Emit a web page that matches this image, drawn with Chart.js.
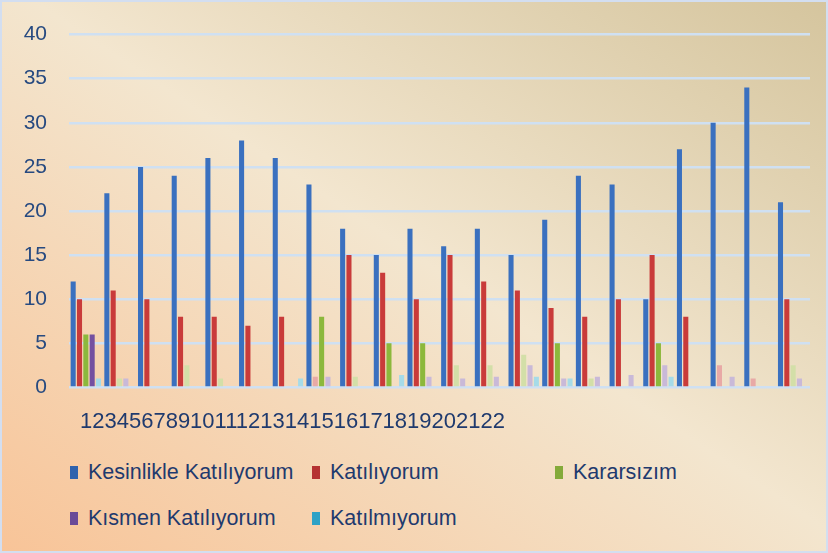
<!DOCTYPE html>
<html>
<head>
<meta charset="utf-8">
<script src="https://cdn.jsdelivr.net/npm/chart.js@4.4.1/dist/chart.umd.min.js"></script>
<style>
  html, body { margin: 0; padding: 0; }
  body { width: 828px; height: 553px; overflow: hidden; }
  #frame {
    position: relative; width: 824px; height: 549px;
    border: 2px solid #d3def0;
    background: linear-gradient(to top right, #f8c498 0%, #f3e6cf 52%, #d5c59e 100%);
    font-family: "Liberation Sans", Arial, sans-serif;
    color: #1f3a6e;
  }
  #chart { position: absolute; left: -2px; top: -2px; }
  #xlabels { position: absolute; left: 78px; top: 406px; font-size: 22px; color: #1f3a6e; }
  .leg { position: absolute; font-size: 21.5px; white-space: nowrap; }
  .leg i { display: inline-block; width: 8px; height: 13px; margin-right: 10px; vertical-align: 0px; }
</style>
</head>
<body>
<div id="frame">
  <canvas id="chart" width="828" height="422"></canvas>
  <div id="xlabels"></div>
  <div id="legend"></div>
</div>
<script>
// Kategoriler (1..22)
const categories = ['1','2','3','4','5','6','7','8','9','10','11','12','13','14','15','16','17','18','19','20','21','22'];

const seriesNames = ['Kesinlikle Katılıyorum', 'Katılıyorum', 'Kararsızım', 'Kısmen Katılıyorum', 'Katılmıyorum'];

const kesinlikle = [12, 22, 25, 24, 26, 28, 26, 23, 18, 15, 18, 16, 18, 15, 19, 24, 23, 10, 27, 30, 34, 21];
const katiliyorum = [10, 11, 10, 8, 8, 7, 8, 1.2, 15, 13, 10, 15, 12, 11, 9, 8, 10, 15, 8, 2.5, 1, 10];
const kararsizim = [6, 1, 0, 2.5, 1, 0, 0, 8, 1.2, 5, 5, 2.5, 2.5, 3.7, 5, 1, 0, 5, 0, 0, 0, 2.5];
const kismen = [6, 1, 0, 0, 0, 0, 0, 1.2, 0, 0, 1.2, 1, 1.2, 2.5, 1, 1.2, 1.4, 2.5, 0, 1.2, 0, 1];
const katilmiyorum = [1, 0, 0, 0, 0, 0, 1, 0, 0, 1.4, 0, 0, 0, 1.2, 1, 0, 0, 1.2, 0, 0, 0, 0];

const yTicks = [0, 5, 10, 15, 20, 25, 30, 35, 40];

// renkler: koyu (normal) ve soluk (küçük değerler)
const solid = ['#3a70bf', '#c93b3a', '#8cb83c', '#7450a0', '#3aaed0'];
const faded = ['#a9c0e4', '#e8a9a6', '#d3dfa8', '#c9b9d8', '#a6dbe8'];
const legendColors = ['#2f62ad', '#b53231', '#84aa3a', '#6a4a98', '#2ea2c6'];

const allData = [kesinlikle, katiliyorum, kararsizim, kismen, katilmiyorum];

const datasets = allData.map((arr, i) => ({
  label: seriesNames[i],
  data: arr,
  backgroundColor: (c) => (c.raw < 4 ? faded[i] : solid[i]),
  borderWidth: 0,
  categoryPercentage: 0.94,
  barPercentage: 0.8
}));

new Chart(document.getElementById('chart'), {
  type: 'bar',
  data: { labels: categories, datasets: datasets },
  options: {
    responsive: false,
    animation: false,
    layout: { padding: { top: 0, right: 18, bottom: 0, left: 0 } },
    plugins: { legend: { display: false }, tooltip: { enabled: false } },
    scales: {
      x: {
        afterFit: (s) => { s.height = 0; },
        ticks: { display: false },
        grid: { display: false },
        border: { display: false }
      },
      y: {
        min: 0, max: 40,
        afterBuildTicks: (s) => { s.ticks = yTicks.map(v => ({ value: v })); },
        afterFit: (s) => { s.width = 69; },
        ticks: {
          padding: 22,
          color: '#274a80',
          font: { family: 'Liberation Sans', size: 21 }
        },
        grid: { color: '#cfe0f2', lineWidth: 2.5, drawTicks: false },
        border: { display: false }
      }
    }
  }
});

// x ekseni etiketleri (orijinaldeki gibi bitişik)
document.getElementById('xlabels').textContent = categories.join('');

// açıklama
const legendEl = document.getElementById('legend');
const legendLeft = [68, 310, 553];
seriesNames.forEach((name, i) => {
  const d = document.createElement('div');
  d.className = 'leg';
  d.style.left = legendLeft[i % 3] + 'px';
  d.style.top = (i < 3 ? 458 : 504) + 'px';
  d.innerHTML = `<i style="background:${legendColors[i]}"></i>${name}`;
  legendEl.appendChild(d);
});
</script>
</body>
</html>
